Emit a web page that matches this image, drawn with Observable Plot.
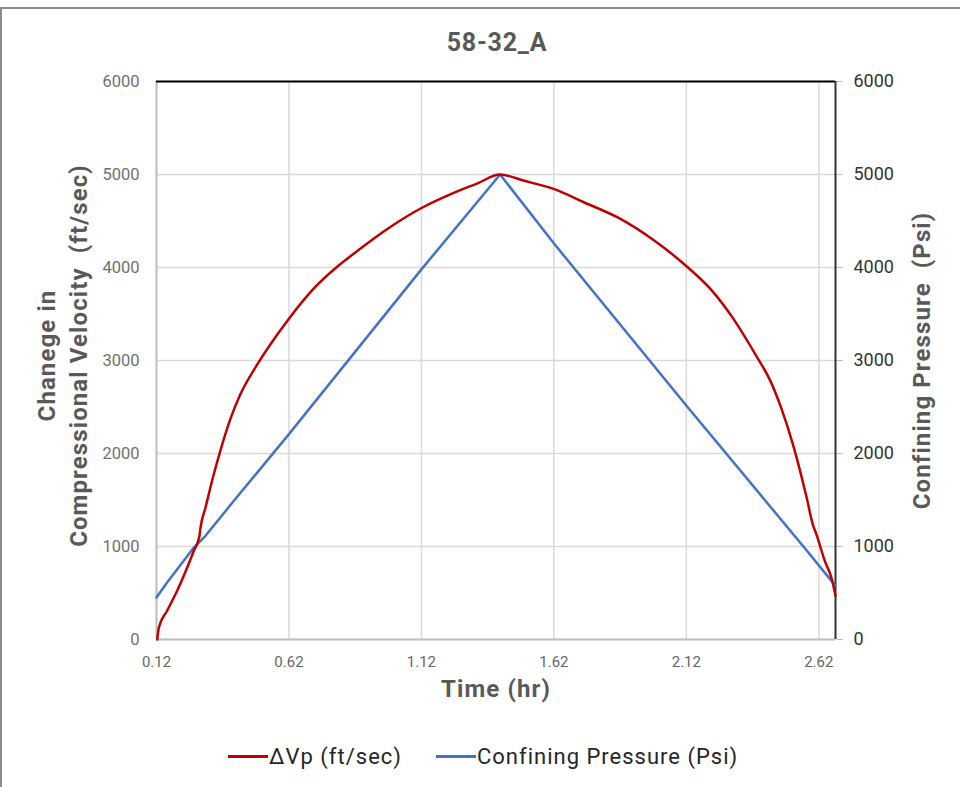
<!DOCTYPE html>
<html>
<head>
<meta charset="utf-8">
<script src="https://cdn.jsdelivr.net/npm/d3@7"></script>
<script src="https://cdn.jsdelivr.net/npm/@observablehq/plot@0.6"></script>
<style>
  html, body { margin: 0; padding: 0; background: #fff; }
  body { width: 960px; height: 787px; position: relative; overflow: hidden; font-family: Roboto, "Noto Sans", sans-serif; }
  #frame { position: absolute; left: 0; top: 7px; width: 970px; height: 800px; border-top: 2px solid #8c8c8c; border-left: 2px solid #8c8c8c; box-sizing: border-box; }
  #title { position: absolute; top: 28px; left: 397px; width: 200px; text-align: center; font-size: 25px; font-weight: 700; letter-spacing: 0.8px; color: #595959; }
  #chart { position: absolute; top: 62px; left: 0; }
  #legend { position: absolute; top: 744px; left: 228px; display: flex; align-items: center; font-size: 22px; letter-spacing: 1px; color: #262626; white-space: nowrap; }
  .sw { display: inline-block; width: 40px; height: 3px; margin-right: 1px; }
  .item { display: flex; align-items: center; }
</style>
</head>
<body>
<div id="frame"></div>
<div id="title">58-32_A</div>
<div id="chart"></div>
<div id="legend"></div>
<script>
// Time (hr) and change in compressional velocity ΔVp (ft/sec)
const vpTime = [0.123, 0.129, 0.160, 0.198, 0.236, 0.261, 0.282, 0.286, 0.305, 0.331, 0.362, 0.400, 0.437, 0.501, 0.576, 0.620, 0.714, 0.803, 0.879, 0.979, 1.120, 1.231, 1.332, 1.416,
                1.508, 1.622, 1.735, 1.861, 2.000, 2.126, 2.214, 2.290, 2.390, 2.434, 2.478, 2.522, 2.554, 2.573, 2.598, 2.611, 2.642, 2.670, 2.683];
const vpValue = [0, 129, 309, 524, 774, 954, 1110, 1200, 1419, 1720, 2040, 2380, 2640, 2960, 3280, 3450, 3775, 4010, 4180, 4390, 4640, 4790, 4905, 5000,
                 4932, 4843, 4699, 4538, 4287, 4000, 3760, 3480, 3020, 2800, 2490, 2100, 1760, 1540, 1230, 1130, 850, 640, 470];

// Time (hr) and confining pressure (Psi)
const cpTime = [0.120, 0.160, 0.261, 0.305, 0.412, 0.620, 1.120, 1.417, 1.622, 2.126, 2.565, 2.683];
const cpValue = [452, 613, 989, 1115, 1491, 2208, 3980, 5000, 4252, 2495, 989, 577];

const xTicks = [0.12, 0.62, 1.12, 1.62, 2.12, 2.62];
const yTicks = [0, 1000, 2000, 3000, 4000, 5000, 6000];

const seriesNames = ["\u0394Vp (ft/sec)", "Confining Pressure (Psi)"];
const seriesColors = ["#C00000", "#4472C4"];

const vp = vpTime.map((t, i) => ({t, v: vpValue[i]}));
const cp = cpTime.map((t, i) => ({t, v: cpValue[i]}));

const titleStyle = {fontSize: 24, fontWeight: 700, fill: "#595959", textAnchor: "middle"};

const chart = Plot.plot({
  width: 960,
  height: 660,
  marginLeft: 156,
  marginRight: 125,
  marginTop: 19,
  marginBottom: 83,
  style: {fontFamily: "Roboto, sans-serif", background: "transparent"},
  x: {domain: [0.12, 2.683]},
  y: {domain: [0, 6000]},
  marks: [
    Plot.gridX(xTicks, {stroke: "#d9d9d9", strokeOpacity: 1, strokeWidth: 1.5}),
    Plot.gridY(yTicks, {stroke: "#d9d9d9", strokeOpacity: 1, strokeWidth: 1.5}),
    Plot.ruleX([0.12], {stroke: "#bfbfbf", strokeWidth: 2}),
    Plot.ruleY([0], {stroke: "#bfbfbf", strokeWidth: 2}),
    Plot.axisX(xTicks, {tickSize: 0, tickPadding: 17, fontSize: 15, fill: "#666", tickFormat: d => d.toFixed(2), label: null}),
    Plot.axisY(yTicks, {anchor: "left", tickSize: 0, tickPadding: 17, fontSize: 16.5, fill: "#707070", tickFormat: d => String(d), label: null}),
    Plot.axisY(yTicks, {anchor: "right", tickSize: 7, tickPadding: 11, fontSize: 18, fill: "#333", stroke: "#bfbfbf", tickFormat: d => String(d), label: null}),
    Plot.ruleY([6000], {stroke: "#000", strokeWidth: 2}),
    Plot.ruleX([2.683], {stroke: "#333", strokeWidth: 2}),
    Plot.line(cp, {x: "t", y: "v", stroke: seriesColors[1], strokeWidth: 2.5}),
    Plot.line(vp, {x: "t", y: "v", stroke: seriesColors[0], strokeWidth: 2.5, curve: "monotone-x"}),
    Plot.text(["Chanege in\nCompressional Velocity  (ft/sec)"], {...titleStyle, frameAnchor: "left", dx: -96, dy: -5, rotate: -90, lineHeight: 1.33}),
    Plot.text(["Confining Pressure  (Psi)"], {...titleStyle, frameAnchor: "right", dx: 87, rotate: -90}),
    Plot.text(["Time (hr)"], {...titleStyle, frameAnchor: "bottom", dy: 57})
  ]
});
// slightly wider tracking on the axis titles
d3.select(chart).selectAll("g[aria-label='text'] text").attr("letter-spacing", "1.1px");
document.getElementById("chart").appendChild(chart);

const legend = document.getElementById("legend");
seriesNames.forEach((name, i) => {
  const item = document.createElement("div");
  item.className = "item";
  if (i > 0) item.style.marginLeft = "34px";
  const sw = document.createElement("span");
  sw.className = "sw";
  sw.style.background = seriesColors[i];
  const label = document.createElement("span");
  label.textContent = name;
  item.appendChild(sw);
  item.appendChild(label);
  legend.appendChild(item);
});
</script>
</body>
</html>
